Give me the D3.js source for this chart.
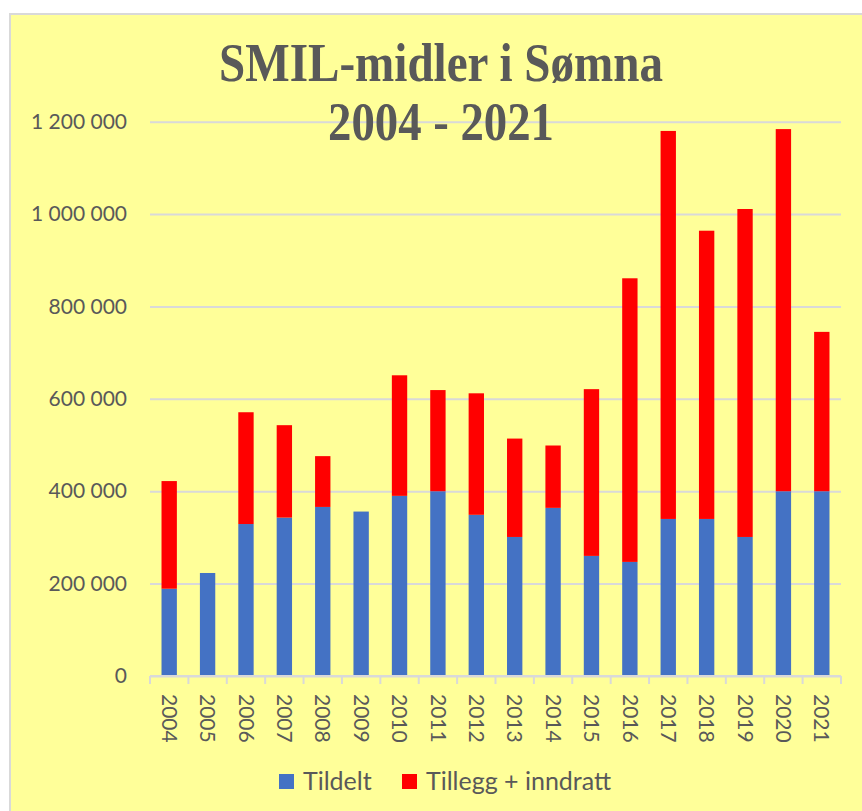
<!DOCTYPE html>
<html>
<head>
<meta charset="utf-8">
<script src="https://cdn.jsdelivr.net/npm/d3@7"></script>
<style>
  body { margin: 0; background: #ffffff; }
  svg { display: block; }
</style>
</head>
<body>
<div class="chart-container"></div>
<script>
var width = 862;
var height = 811;

// data
var years = ["2004", "2005", "2006", "2007", "2008", "2009", "2010", "2011", "2012",
             "2013", "2014", "2015", "2016", "2017", "2018", "2019", "2020", "2021"];
var tildelt = [189000, 223000, 329000, 343000, 366000, 356000, 390000, 400000, 349000,
               301000, 364000, 260000, 247000, 340000, 340000, 301000, 400000, 400000];
var tillegg = [233000, 0, 242000, 200000, 110000, 0, 261000, 219000, 263000,
               213000, 135000, 361000, 614000, 840000, 624000, 710000, 784000, 345000];
var seriesNames = ["Tildelt", "Tillegg + inndratt"];
var seriesColors = ["#4472C4", "#FF0000"];
var yTicks = [0, 200000, 400000, 600000, 800000, 1000000, 1200000];
var titleLines = ["SMIL-midler i Sømna", "2004 - 2021"];
var titleWidths = [444, 226];

var textColor = "#595959";
var gridColor = "#d9d9d9";

var svg = d3.select(".chart-container").append("svg")
	.attr("width", width)
	.attr("height", height);

// chart area background + border (runs off the right / bottom edge)
svg.append("rect")
	.attr("x", 10)
	.attr("y", 14)
	.attr("width", width + 10)
	.attr("height", height + 10)
	.attr("fill", "#FFFF99")
	.attr("stroke", gridColor)
	.attr("stroke-width", 2);

var x = d3.scaleBand()
	.domain(years)
	.range([150, 841])
	.paddingInner(0.6)
	.paddingOuter(0.3);

var y = d3.scaleLinear()
	.domain([0, 1200000])
	.range([676, 121.7]);

var fmt = function(d) { return d3.format(",")(d).replace(/,/g, " "); };

// gridlines + y labels
var yAxis = svg.append("g")
	.attr("transform", "translate(150,0)")
	.call(d3.axisLeft(y).tickValues(yTicks).tickSize(-691).tickPadding(23).tickFormat(fmt));
yAxis.select(".domain").remove();
yAxis.selectAll(".tick line")
	.attr("stroke", gridColor)
	.attr("stroke-width", 2);
yAxis.selectAll(".tick text")
	.attr("fill", textColor)
	.attr("font-family", "Lato, sans-serif")
	.attr("font-size", 21);

// stacked bars
var rows = years.map(function(yr, i) {
	return { year: yr, Tildelt: tildelt[i], "Tillegg + inndratt": tillegg[i] };
});
var stack = d3.stack().keys(seriesNames)(rows);

svg.append("g").selectAll("g")
	.data(stack)
	.enter().append("g")
	.attr("fill", function(d, i) { return seriesColors[i]; })
	.selectAll("rect")
	.data(function(d) { return d; })
	.enter().append("rect")
	.attr("x", function(d) { return x(d.data.year); })
	.attr("width", x.bandwidth())
	.attr("y", function(d) { return y(d[1]); })
	.attr("height", function(d) { return y(d[0]) - y(d[1]); });

// x axis: line, boundary ticks, rotated year labels
svg.append("line")
	.attr("x1", 150).attr("x2", 841)
	.attr("y1", y(0)).attr("y2", y(0))
	.attr("stroke", gridColor)
	.attr("stroke-width", 2);

svg.append("g").selectAll("line")
	.data(d3.range(years.length + 1))
	.enter().append("line")
	.attr("x1", function(i) { return 150 + i * (691 / years.length); })
	.attr("x2", function(i) { return 150 + i * (691 / years.length); })
	.attr("y1", y(0))
	.attr("y2", y(0) + 8)
	.attr("stroke", gridColor)
	.attr("stroke-width", 2);

svg.append("g").selectAll("text")
	.data(years)
	.enter().append("text")
	.attr("transform", function(d) {
		return "translate(" + (x(d) + x.bandwidth() / 2) + "," + 694 + ") rotate(90)";
	})
	.attr("dy", "0.35em")
	.attr("fill", textColor)
	.attr("font-family", "Lato, sans-serif")
	.attr("font-size", 21)
	.text(function(d) { return d; });

// title (taller, condensed glyphs like the original)
svg.append("g").selectAll("text")
	.data(titleLines)
	.enter().append("text")
	.attr("x", 441)
	.attr("y", function(d, i) { return 81 + i * 59; })
	.attr("text-anchor", "middle")
	.attr("textLength", function(d, i) { return titleWidths[i]; })
	.attr("lengthAdjust", "spacingAndGlyphs")
	.attr("fill", textColor)
	.attr("font-family", "'Liberation Serif', 'Times New Roman', serif")
	.attr("font-weight", "bold")
	.attr("font-size", 54)
	.text(function(d) { return d; });

// legend
var legendX = [279, 402];
var legend = svg.append("g").selectAll("g")
	.data(seriesNames)
	.enter().append("g")
	.attr("transform", function(d, i) { return "translate(" + legendX[i] + ",774)"; });
legend.append("rect")
	.attr("width", 15)
	.attr("height", 15)
	.attr("fill", function(d, i) { return seriesColors[i]; });
legend.append("text")
	.attr("x", 24)
	.attr("y", 16)
	.attr("fill", textColor)
	.attr("font-family", "Lato, sans-serif")
	.attr("font-size", 25)
	.text(function(d) { return d; });
</script>
</body>
</html>
